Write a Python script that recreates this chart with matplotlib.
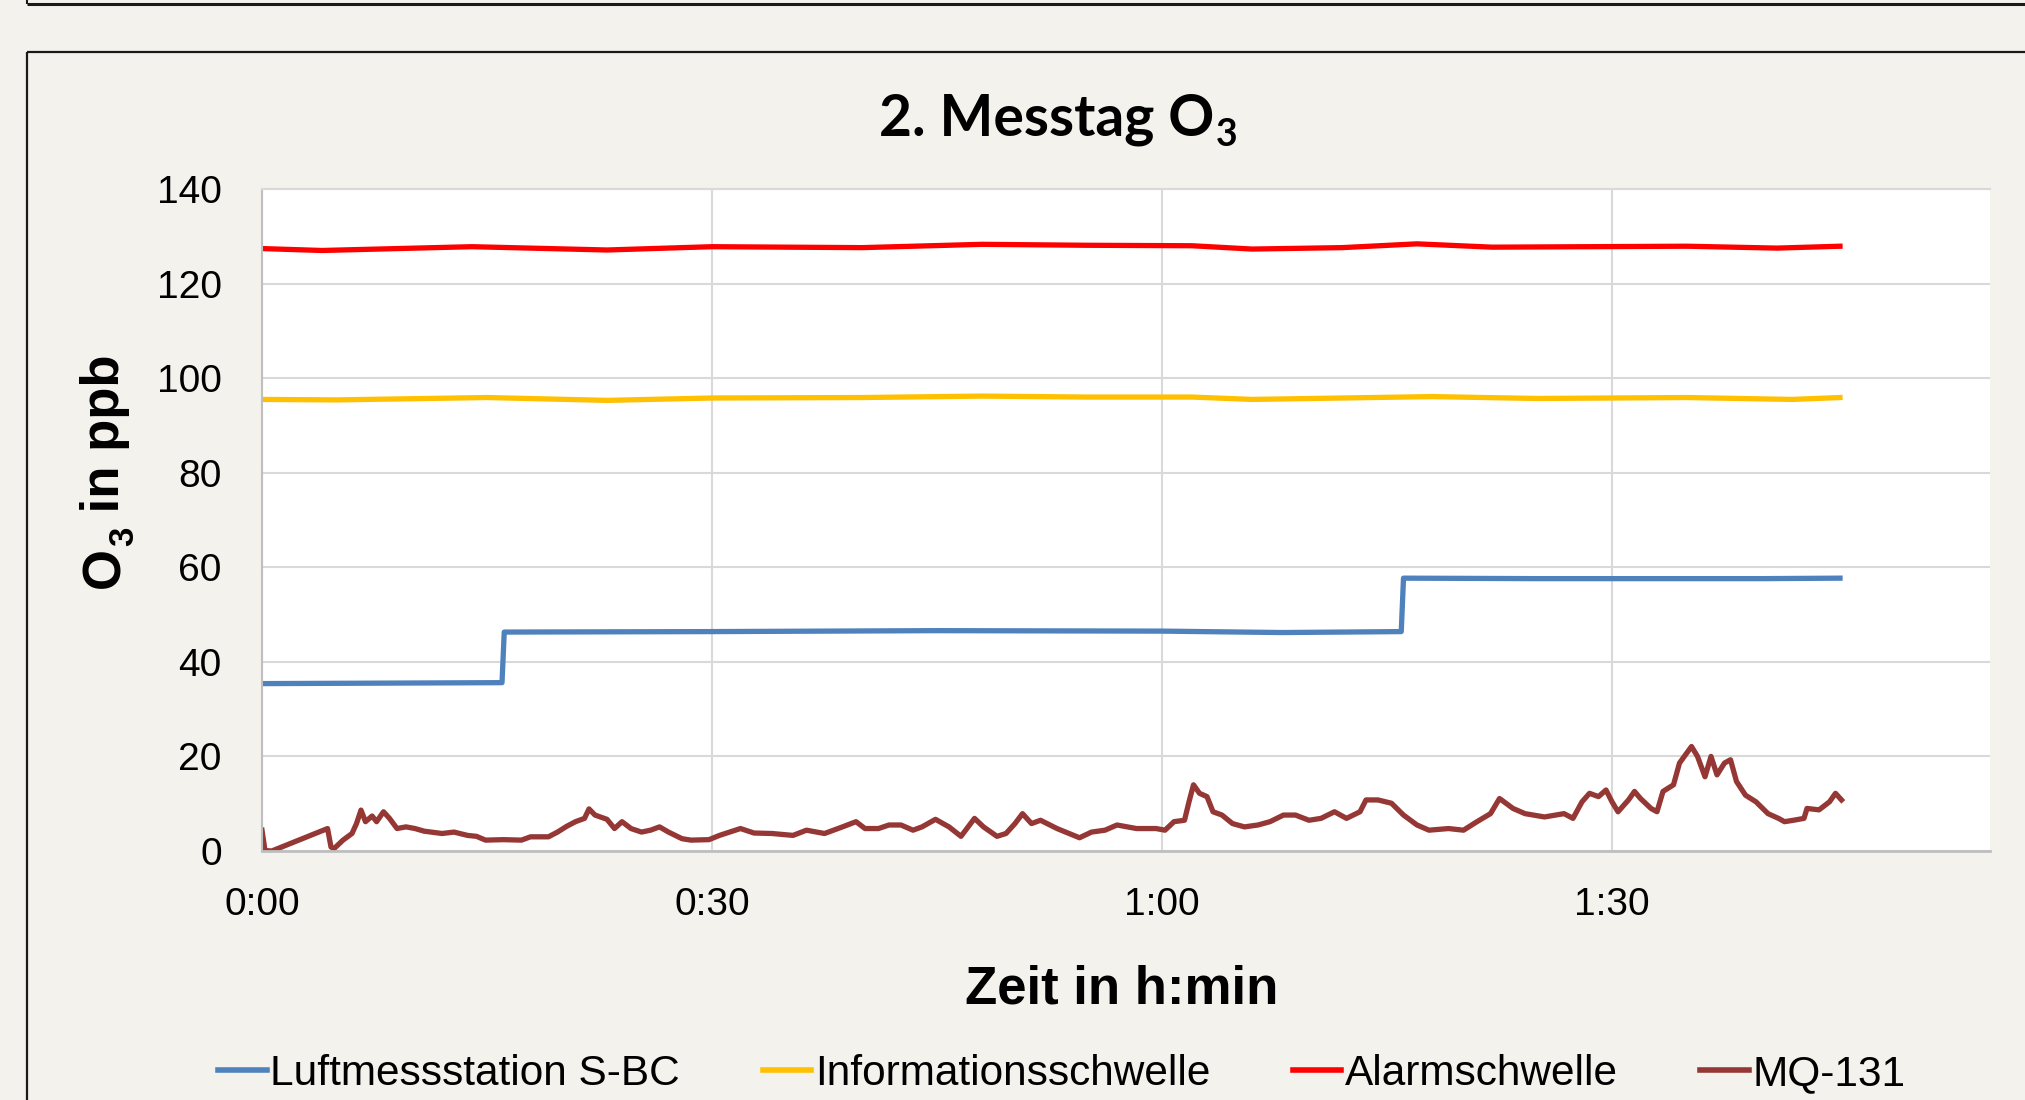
import matplotlib
matplotlib.use("Agg")
import matplotlib.pyplot as plt
from matplotlib.lines import Line2D
from matplotlib.ticker import FixedLocator, FixedFormatter

# ---------------- data (time in minutes, O3 in ppb) ----------------
tick_minutes = [0, 30, 60, 90]
tick_labels = ["0:00", "0:30", "1:00", "1:30"]

station_t = [0, 8, 16.0, 16.15, 30, 45, 60, 68, 75.95, 76.1, 85, 100, 105.2]
station_v = [35.4, 35.5, 35.6, 46.3, 46.4, 46.6, 46.5, 46.2, 46.4, 57.7, 57.6, 57.6, 57.7]

info_t = [0, 5, 15, 23, 30, 40, 48, 55, 62, 66, 78, 85, 95, 102, 105.2]
info_v = [95.5, 95.4, 95.9, 95.3, 95.8, 95.9, 96.2, 96.0, 96.0, 95.5, 96.1, 95.7, 95.9, 95.5, 95.9]

alarm_t = [0, 4, 14, 23, 30, 40, 48, 55, 62, 66, 72, 77, 82, 95, 101, 105.2]
alarm_v = [127.4, 127.0, 127.8, 127.1, 127.8, 127.6, 128.3, 128.1, 128.0, 127.3, 127.6, 128.4, 127.7, 127.9, 127.5, 127.9]

mq_t = [0, 0.2, 0.65, 4.37, 4.6, 4.8, 5.4, 6.0, 6.3, 6.6, 6.9, 7.34, 7.64, 8.1, 8.5, 9.0,
        9.6, 10.2, 10.8, 12.0, 12.8, 13.7, 14.3, 14.9, 16.1, 17.3, 17.9, 19.1, 19.7, 20.3,
        20.9, 21.5, 21.8, 22.2, 23.0, 23.5, 24.0, 24.6, 25.3, 25.9, 26.5, 27.1, 28.0, 28.6,
        29.8, 30.5, 31.9, 32.8, 34.0, 35.4, 36.3, 37.5, 38.7, 39.6, 40.2, 41.1, 41.8, 42.6,
        43.4, 44.0, 44.9, 45.8, 46.6, 47.5, 48.1, 49.0, 49.6, 50.2, 50.7, 51.3, 51.9, 53.0,
        53.8, 54.5, 55.3, 56.2, 57.0, 58.3, 59.6, 60.2, 60.8, 61.5, 61.8, 62.1, 62.5, 63.0,
        63.4, 64.0, 64.7, 65.5, 66.4, 67.2, 68.1, 68.9, 69.8, 70.6, 71.5, 72.3, 73.2, 73.6,
        74.4, 75.3, 76.1, 77.0, 77.8, 79.1, 80.1, 81.0, 81.9, 82.5, 83.4, 84.2, 85.5, 86.8,
        87.4, 88.0, 88.5, 89.1, 89.6, 90.0, 90.4, 91.1, 91.5, 91.9, 92.6, 93.0, 93.4, 94.1,
        94.5, 95.3, 95.7, 96.2, 96.6, 97.0, 97.5, 97.9, 98.3, 98.9, 99.6, 100.4, 101.1,
        101.5, 102.1, 102.8, 103.0, 103.8, 104.5, 104.9, 105.3]
mq_v = [4.4, 0.1, 0.0, 4.75, 0.85, 0.5, 2.3, 3.7, 5.8, 8.65, 6.2, 7.4, 6.2, 8.3, 6.9, 4.75,
        5.1, 4.75, 4.2, 3.7, 4.0, 3.3, 3.1, 2.3, 2.4, 2.3, 3.0, 3.0, 4.0, 5.2,
        6.2, 6.9, 8.9, 7.6, 6.7, 4.75, 6.2, 4.75, 4.0, 4.4, 5.1, 4.0, 2.6, 2.3,
        2.4, 3.3, 4.75, 3.8, 3.7, 3.3, 4.4, 3.7, 5.1, 6.2, 4.75, 4.75, 5.5, 5.5,
        4.4, 5.1, 6.7, 5.1, 3.1, 6.9, 5.1, 3.1, 3.7, 5.8, 7.9, 5.8, 6.5, 4.75,
        3.7, 2.8, 4.0, 4.4, 5.5, 4.75, 4.75, 4.4, 6.2, 6.5, 10.4, 14.0, 12.2, 11.5,
        8.3, 7.6, 5.8, 5.1, 5.5, 6.2, 7.6, 7.6, 6.5, 6.9, 8.3, 6.9, 8.3, 10.8,
        10.8, 10.1, 7.6, 5.5, 4.4, 4.75, 4.4, 6.2, 7.9, 11.1, 9.0, 7.9, 7.2, 7.9,
        6.9, 10.4, 12.2, 11.5, 12.9, 10.4, 8.3, 10.8, 12.6, 11.1, 9.0, 8.3, 12.6, 14.0,
        18.6, 22.1, 20.0, 15.7, 20.0, 16.1, 18.6, 19.3, 14.7, 11.8, 10.4, 7.9, 6.9,
        6.2, 6.5, 6.9, 9.0, 8.7, 10.4, 12.2, 10.8]

series_labels = ["Luftmessstation S-BC", "Informationsschwelle", "Alarmschwelle", "MQ-131"]
series_colors = ["#4F81BD", "#FFC000", "#FF0000", "#953735"]

# ---------------- figure ----------------
W, H = 2025, 1100
BG = "#F3F2ED"
fig = plt.figure(figsize=(W / 100, H / 100), dpi=100, facecolor=BG)

# frame lines of the chart boxes
def fline(xs, ys, lw):
    fig.add_artist(Line2D([x / W for x in xs], [1 - y / H for y in ys],
                          color="#1a1a1a", lw=lw, transform=fig.transFigure,
                          solid_capstyle="butt"))

fline([27, W], [4, 4], 2.2)
fline([27, 27], [0, 4], 1.5)
fline([27, W], [52, 52], 1.6)
fline([27, 27], [52, H], 1.6)

ax = fig.add_axes([262 / W, 1 - 851 / H, (1990 - 262) / W, (851 - 189) / H])
ax.set_facecolor("white")

sans = ["Liberation Sans", "DejaVu Sans"]
lw = 3.8
ax.plot(station_t, station_v, color=series_colors[0], lw=lw,
        label=series_labels[0], solid_joinstyle="round")
ax.plot(info_t, info_v, color=series_colors[1], lw=lw, label=series_labels[1])
ax.plot(alarm_t, alarm_v, color=series_colors[2], lw=lw, label=series_labels[2])
ax.plot(mq_t, mq_v, color=series_colors[3], lw=lw, label=series_labels[3],
        solid_joinstyle="round")

ax.set_xlim(0, 115.2)
ax.set_ylim(0, 140)
ax.xaxis.set_major_locator(FixedLocator(tick_minutes))
ax.xaxis.set_major_formatter(FixedFormatter(tick_labels))
ax.set_yticks(range(0, 141, 20))

ax.grid(True, color="#D9D9D9", lw=1.5)
ax.set_axisbelow(True)
ax.spines["right"].set_visible(False)
ax.spines["top"].set_color("#D9D9D9")
ax.spines["top"].set_linewidth(1.5)
ax.spines["left"].set_color("#BFBFBF")
ax.spines["left"].set_linewidth(1.5)
ax.spines["bottom"].set_color("#BFBFBF")
ax.spines["bottom"].set_linewidth(2.0)
ax.tick_params(axis="both", length=0, labelsize=28, colors="black")
ax.tick_params(axis="y", pad=29)
ax.tick_params(axis="x", pad=26)
for lab in ax.get_xticklabels() + ax.get_yticklabels():
    lab.set_family(sans)

# x label
fig.text(1122 / W, 1 - 989 / H, "Zeit in h:min", ha="center", va="center",
         fontsize=38, fontweight="bold", family=sans)

# legend
leg = fig.legend(loc="center", bbox_to_anchor=(1062 / W, 1 - 1074 / H), ncol=4,
                 frameon=False, prop={"family": sans, "size": 30.5},
                 handlelength=1.15, handletextpad=0.08, columnspacing=1.95,
                 borderaxespad=0)
for h in leg.legend_handles:
    h.set_linewidth(4.0)

# title with subscript
title_font = ["Lato", "DejaVu Sans"]
t_main = fig.text(1214 / W, 1 - 136 / H, "2. Messtag O", ha="right", va="baseline",
                  fontsize=41, fontweight="bold", family=title_font)
fig.canvas.draw()
r = fig.canvas.get_renderer()
bb = t_main.get_window_extent(r)
fig.text((bb.x1 + 2) / W, 1 - 146 / H, "3", ha="left", va="baseline",
         fontsize=27, fontweight="bold", family=title_font)

# rotated y label with subscript
xb = 119  # baseline x (pixels from left)
t1 = fig.text(xb / W, 1 - 588 / H, "O", rotation=90, rotation_mode="anchor",
              ha="left", va="baseline", fontsize=38, fontweight="bold", family=sans)
fig.canvas.draw()
b1 = t1.get_window_extent(r)
t2 = fig.text((xb + 14) / W, (b1.y1 + 1) / H, "3", rotation=90, rotation_mode="anchor",
              ha="left", va="baseline", fontsize=25, fontweight="bold", family=sans)
fig.canvas.draw()
b2 = t2.get_window_extent(r)
fig.text(xb / W, (b2.y1) / H, " in ppb", rotation=90, rotation_mode="anchor",
         ha="left", va="baseline", fontsize=38, fontweight="bold", family=sans)

fig.savefig("out.png", dpi=100, facecolor=BG)
